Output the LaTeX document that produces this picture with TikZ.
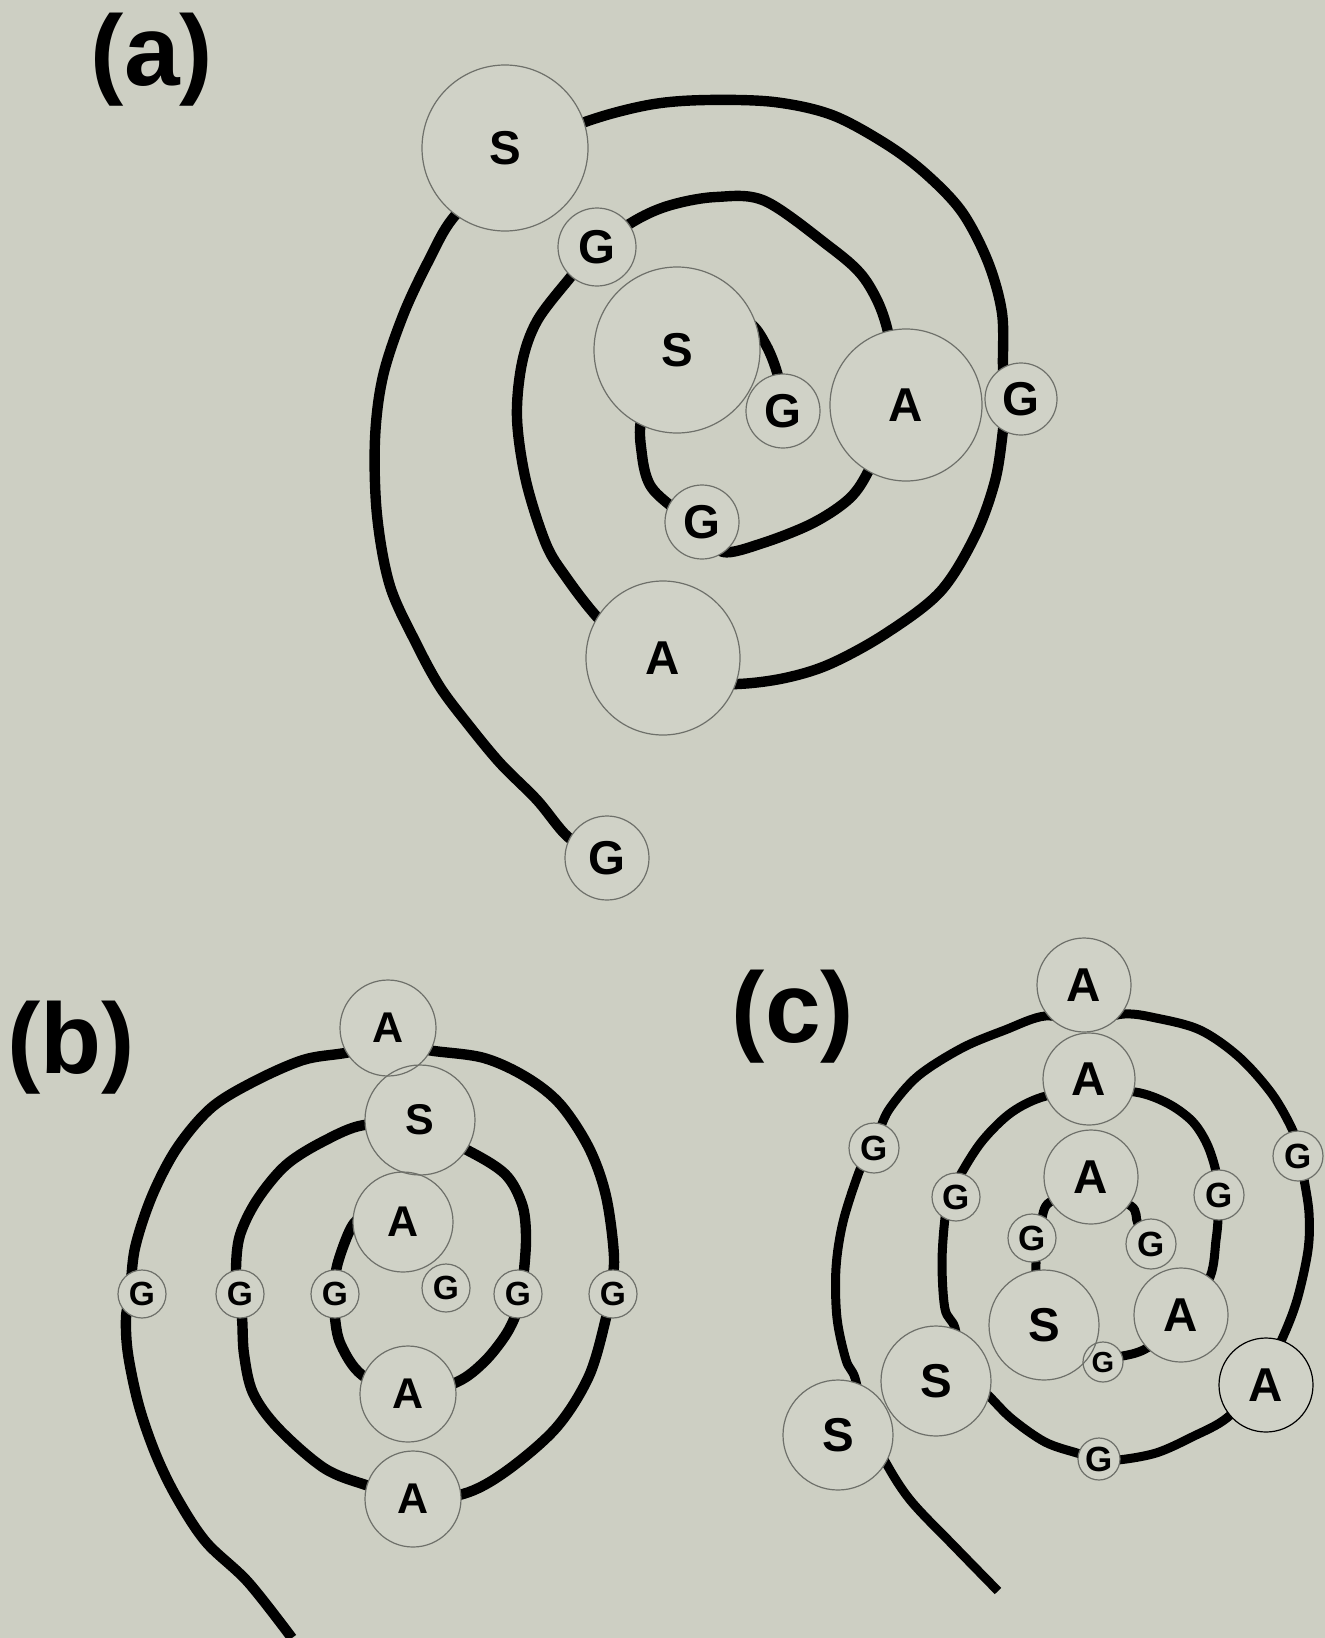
\documentclass[tikz,border=0pt]{standalone}
\usepackage{fontspec}
\setmainfont{Liberation Sans}
\definecolor{bgcol}{RGB}{205,207,195}
\definecolor{discfill}{RGB}{208,210,199}
\definecolor{ringcol}{RGB}{110,112,106}
\newcommand\blobsa{%
S1/505/148/83/S/23.75/ringcol,
G1/597/247/39/G/23.75/ringcol,
S2/677/350/83/S/23.75/ringcol,
G2/783/411/37/G/23.75/ringcol,
A1/906/405/76/A/23.75/ringcol,
G3/1021/399/36/G/23.75/ringcol,
G4/702/522/37/G/23.75/ringcol,
A2/663/658/77/A/23.75/ringcol,
G5/607/858/42/G/23.75/ringcol}
\newcommand\blobsb{%
bA1/388/1028/48/A/21.5/ringcol,
bS/420/1120/55/S/21.5/ringcol,
bA2/403/1222/50/A/21.5/ringcol,
bG0/446/1288/24/G/16.75/ringcol,
bG1/142/1294/24/G/16.75/ringcol,
bG2/240/1294/24/G/16.75/ringcol,
bG3/335/1294/24/G/16.75/ringcol,
bG4/518/1294/24/G/16.75/ringcol,
bG5/613/1294/24/G/16.75/ringcol,
bA3/408/1394/48/A/21.5/ringcol,
bA4/413/1499/48/A/21.5/ringcol}
\newcommand\blobsc{%
cA1/1084/985/47/A/23.75/ringcol,
cA2/1089/1079/46/A/23.75/ringcol,
cA3/1091/1177/47/A/23.75/ringcol,
cG1/874/1148/25/G/17.5/ringcol,
cG2/956/1197/24/G/17.5/ringcol,
cG3/1032/1238/24/G/17.5/ringcol,
cG4/1151/1244/25/G/17.5/ringcol,
cG5/1219/1195/25/G/17.5/ringcol,
cG6/1298/1156/25/G/17.5/ringcol,
cS1/1044/1325/55/S/23.75/ringcol,
cA4/1181/1315/47/A/23.75/ringcol,
cG7/1103/1362/20/G/14.5/ringcol,
cA5/1266/1385/47/A/23.75/black,
cS2/936/1381/55/S/23.75/ringcol,
cS3/838/1435/55/S/23.75/ringcol,
cG8/1099/1459/21/G/17.5/ringcol}
\begin{document}
\begin{tikzpicture}[x=0.5pt,y=-0.5pt,
  spiral/.style={line width=5.2pt,line join=round,draw=black},
  spiralc/.style={line width=4.5pt,line join=round,draw=black},
  ring/.style={circle,line width=0.6pt,inner sep=0pt,text=black},
  panellabel/.style={font=\fontsize{50}{50}\selectfont\bfseries,inner sep=0pt,anchor=base}]
\useasboundingbox (0,0) rectangle (1325,1638);
\fill[bgcol] (0,0) rectangle (1325,1638);
% labels
\node[panellabel] (la) at (152,85) {(a)};
\node[panellabel] (lb) at (71,1073) {(b)};
\node[panellabel] (lc) at (793,1042) {(c)};
% spiral (a)
\draw[spiral] plot[smooth,tension=0.55] coordinates {
(783,411) (778,376) (766,345) (748,322) (712,316) (668,345) (642,415)
(642,455) (650,485) (671,506) (705,530) (723,552) (763,543) (813,523)
(850,498) (870,468) (890,420) (892,360) (887,328) (877,300) (860,273)
(830,247) (765,201) (716,197) (671,205) (636,220) (596,248) (569,279)
(537,321) (522,363) (517,418) (526,481) (546,544) (566,577) (597,617)
(640,660) (690,682) (738,684) (785,678) (830,664) (885,634) (940,592)
(975,536) (995,481) (1003,430) (1005,400) (1003,367) (1002,313) (988,262)
(962,212) (926,174) (886,144) (832,115) (774,102) (707,100) (654,104)
(600,117) (555,135) (500,170) (453,218) (430,258) (404,313) (383,376)
(375,439) (377,515) (390,586) (417,645) (440,687) (467,723) (500,763)
(537,800) (568,837) (600,855)};
% spiral (b)
\draw[spiral] plot[smooth,tension=0.55] coordinates {
(395,1205) (365,1215) (351,1228) (337,1266) (335,1294) (335,1318) (341,1345)
(362,1375) (408,1397) (457,1382) (484,1362) (505,1336) (516,1314) (520,1294)
(524,1270) (526,1235) (522,1204) (505,1174) (467,1150) (415,1127) (364,1125)
(324,1141) (286,1165) (257,1200) (240,1235) (236,1268) (238,1294) (242,1318)
(244,1354) (253,1393) (278,1428) (324,1468) (366,1485) (413,1498) (463,1494)
(505,1472) (556,1428) (589,1376) (606,1318) (610,1294) (614,1257) (606,1196)
(589,1148) (560,1104) (526,1077) (484,1058) (434,1051) (388,1045) (345,1053)
(303,1060) (253,1082) (211,1108) (177,1148) (152,1196) (135,1248) (130,1294)
(126,1318) (128,1354) (139,1406) (156,1455) (177,1498) (206,1542) (248,1582)
(292,1638)};
% spiral (c)
\draw[spiralc] plot[smooth,tension=0.55] coordinates {
(1151,1244) (1138,1224) (1131,1206) (1091,1192) (1050,1202) (1041,1222)
(1036,1238) (1036,1263) (1037,1282) (1050,1322) (1080,1350) (1103,1360)
(1118,1357) (1147,1348) (1185,1315) (1210,1277) (1216,1240) (1218,1218)
(1217,1195) (1216,1172) (1207,1144) (1192,1121) (1167,1103) (1135,1092)
(1090,1092) (1046,1096) (1012,1112) (983,1140) (962,1172) (950,1197)
(945,1218) (942,1263) (945,1309) (955,1328) (963,1370) (989,1396)
(1012,1419) (1045,1442) (1077,1453) (1099,1459) (1118,1460) (1156,1453)
(1192,1437) (1228,1417) (1262,1378) (1282,1339) (1297,1300) (1308,1250)
(1309,1213) (1304,1179) (1300,1156) (1293,1131) (1272,1094) (1239,1057)
(1200,1030) (1156,1018) (1124,1014) (1084,1022) (1045,1016) (1005,1030)
(962,1048) (918,1076) (890,1108) (879,1131) (870,1150) (859,1172)
(843,1222) (836,1268) (837,1318) (846,1360) (855,1378) (865,1420)
(886,1463) (911,1501) (955,1547) (998,1591)};
% disc fills
\foreach \n/\x/\y/\r/\t/\s/\c in \blobsa {\fill[discfill] (\x,\y) circle[radius=\r];}
\foreach \n/\x/\y/\r/\t/\s/\c in \blobsb {\fill[discfill] (\x,\y) circle[radius=\r];}
\foreach \n/\x/\y/\r/\t/\s/\c in \blobsc {\fill[discfill] (\x,\y) circle[radius=\r];}
% rings with letters
\foreach \n/\x/\y/\r/\t/\s/\c in \blobsa {\node[ring,draw=\c,minimum size=\r pt,font=\fontsize{\s}{\s}\selectfont\bfseries] (\n) at (\x,\y) {\t};}
\foreach \n/\x/\y/\r/\t/\s/\c in \blobsb {\node[ring,draw=\c,minimum size=\r pt,font=\fontsize{\s}{\s}\selectfont\bfseries] (\n) at (\x,\y) {\t};}
\foreach \n/\x/\y/\r/\t/\s/\c in \blobsc {\node[ring,draw=\c,minimum size=\r pt,font=\fontsize{\s}{\s}\selectfont\bfseries] (\n) at (\x,\y) {\t};}
\end{tikzpicture}
\end{document}
